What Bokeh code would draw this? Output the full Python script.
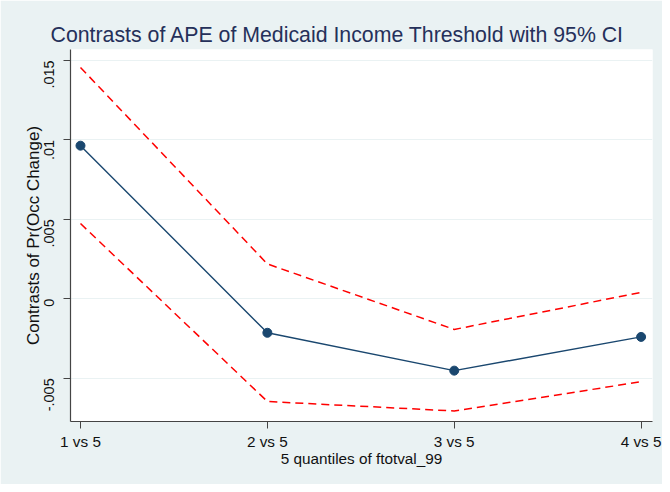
import math
from bokeh.plotting import figure
from bokeh.models import FixedTicker, Range1d
from bokeh.embed import file_html
from bokeh.resources import INLINE

# Data
categories = ["1 vs 5", "2 vs 5", "3 vs 5", "4 vs 5"]
xpos = [1, 2, 3, 4]
contrast = [0.00963, -0.00214, -0.00452, -0.00240]
upper_ci = [0.01455, 0.00219, -0.00193, 0.00040]
lower_ci = [0.00473, -0.00646, -0.00706, -0.00522]
y_ticks = [-0.005, 0.0, 0.005, 0.01, 0.015]
y_tick_labels = ["-.005", "0", ".005", ".01", ".015"]

BG = "#eaf2f3"
NAVY = "#1a476f"
FONT = "Liberation Sans"

p = figure(
    output_backend="svg", toolbar_location=None,
    frame_width=582, frame_height=372,
    min_border_left=70, min_border_right=10, min_border_top=49, min_border_bottom=63,
    x_range=Range1d(0.9465, 4.061), y_range=Range1d(-0.00772, 0.01568),
    title="Contrasts of APE of Medicaid Income Threshold with 95% CI",
)
p.border_fill_color = BG
p.background_fill_color = "white"
p.outline_line_color = None

p.title.text_font = FONT
p.title.text_font_size = "21.3px"
p.title.text_font_style = "normal"
p.title.text_color = "#25305a"
p.title.align = "left"
p.title.offset = -20
p.title.standoff = 6

p.xgrid.grid_line_color = None
p.ygrid.grid_line_color = BG
p.ygrid.grid_line_width = 1.2
p.ygrid.ticker = FixedTicker(ticks=y_ticks)

p.xaxis.ticker = FixedTicker(ticks=xpos)
p.xaxis.major_label_overrides = {x: c for x, c in zip(xpos, categories)}
p.yaxis.ticker = FixedTicker(ticks=y_ticks)
p.yaxis.major_label_overrides = {t: l for t, l in zip(y_ticks, y_tick_labels)}
p.yaxis.major_label_orientation = math.pi / 2

for ax in (p.xaxis, p.yaxis):
    ax.axis_line_color = "#444444"
    ax.axis_line_width = 1.2
    ax.major_tick_line_color = "#444444"
    ax.major_tick_out = 7
    ax.major_tick_in = 0
    ax.minor_tick_line_color = None
    ax.major_label_text_font = FONT
    ax.major_label_text_color = "#111111"
    ax.axis_label_text_font = FONT
    ax.axis_label_text_font_style = "normal"
    ax.axis_label_text_color = "#111111"

p.xaxis.major_label_text_font_size = "15.3px"
p.yaxis.major_label_text_font_size = "14.5px"
p.xaxis.axis_label_text_font_size = "15.3px"
p.yaxis.axis_label_text_font_size = "17px"

p.xaxis.axis_label = "5 quantiles of ftotval_99"
p.yaxis.axis_label = "Contrasts of Pr(Occ Change)"
p.xaxis.major_label_standoff = 4
p.xaxis.axis_label_standoff = -3
p.yaxis.major_label_standoff = 14
p.yaxis.axis_label_standoff = -6

p.line(xpos, upper_ci, line_color="#ff0000", line_width=1.5, line_dash="8 5")
p.line(xpos, lower_ci, line_color="#ff0000", line_width=1.5, line_dash="8 5")
p.line(xpos, contrast, line_color=NAVY, line_width=1.4)
p.scatter(xpos, contrast, size=9, fill_color=NAVY, line_color=NAVY)

open("out.html", "w").write(file_html(p, INLINE))
